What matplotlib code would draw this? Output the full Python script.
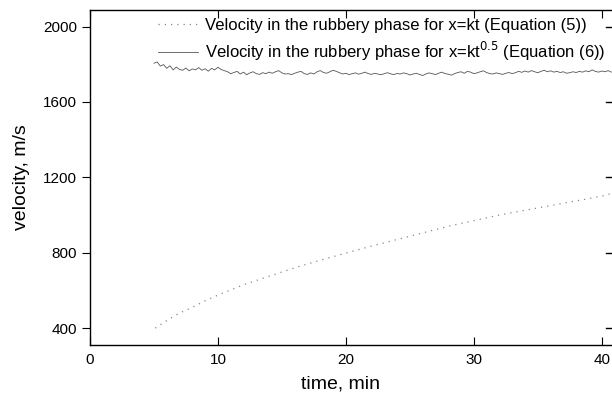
import numpy as np
import matplotlib.pyplot as plt

plt.rcParams['font.family'] = ['Liberation Sans', 'DejaVu Sans']

# ------------------------------------------
# Data
# ------------------------------------------

# Equation (5): x = kt
t_eq5 = [5.1, 6, 7, 8, 9, 10, 12, 14, 16, 18, 20, 22, 24, 26, 28,
         30, 32, 34, 36, 38, 40, 40.8]
v_eq5 = [400, 440, 480, 510, 545, 575, 630, 675, 720, 760, 798, 835,
         870, 905, 940, 970, 1000, 1025, 1050, 1075, 1100, 1115]

# Equation (6): x = kt^0.5  (sampled every 0.25 min from 5 to 40.75)
t_eq6 = np.arange(5.0, 40.76, 0.25)
v_eq6 = [1805, 1812, 1790, 1798, 1778, 1792, 1770, 1785, 1772,
         1768, 1780, 1765, 1775, 1770, 1782, 1768, 1776, 1763, 1778, 1770, 1784,
         1772, 1766, 1760, 1750, 1756, 1762, 1748, 1758, 1744, 1754, 1760, 1750,
         1746, 1755, 1750, 1758, 1752, 1760, 1766, 1754, 1748, 1750, 1745, 1752,
         1758, 1762, 1750, 1746, 1754, 1748, 1760, 1766, 1756, 1752, 1760, 1768,
         1762, 1755, 1748, 1752, 1745, 1750, 1754, 1747, 1752, 1758, 1750, 1746,
         1752, 1748, 1744, 1750, 1755, 1749, 1745, 1751, 1748, 1754, 1750, 1743,
         1748, 1752, 1746, 1740, 1748, 1754, 1750, 1745, 1752, 1758, 1750, 1747,
         1742, 1750, 1756, 1760, 1752, 1762, 1758, 1750, 1754, 1760, 1765, 1756,
         1750, 1748, 1754, 1750, 1746, 1752, 1756, 1750, 1755, 1762, 1757, 1764,
         1758, 1766, 1760, 1755, 1762, 1768, 1760, 1765, 1758, 1762, 1756, 1760,
         1752, 1755, 1760, 1756, 1762, 1758, 1765, 1760, 1770, 1762, 1758, 1764,
         1760, 1766, 1758]

x_ticks = [0, 10, 20, 30, 40]
y_ticks = [400, 800, 1200, 1600, 2000]

label_eq5 = "Velocity in the rubbery phase for x=kt (Equation (5))"
label_eq6 = "Velocity in the rubbery phase for x=kt$^{0.5}$ (Equation (6))"

# ------------------------------------------
# Plot
# ------------------------------------------

fig = plt.figure(figsize=(6.12, 3.98), dpi=100)
ax = fig.add_axes([0.147, 0.133, 0.853, 0.843])

ax.plot(t_eq5, v_eq5, linestyle=(0, (1, 4)), color="#888888",
        linewidth=0.9, label=label_eq5)
ax.plot(t_eq6, v_eq6, color="#555555", linewidth=0.6, label=label_eq6)

ax.set_xlim(0, 40.8)
ax.set_ylim(310, 2090)
ax.set_xticks(x_ticks)
ax.set_yticks(y_ticks)

ax.tick_params(axis="x", direction="in", top=True, length=6, labelsize=11)
ax.tick_params(axis="y", direction="out", length=6, labelsize=11)
ax.tick_params(axis="x", pad=6)

# inward ticks on the right edge
for y in y_ticks:
    ax.plot([40.8 - 0.5, 40.8], [y, y], color="black", linewidth=1, clip_on=False)

for side in ["left", "bottom", "top"]:
    ax.spines[side].set_linewidth(1)
ax.spines["right"].set_visible(False)

ax.set_xlabel("time, min", fontsize=14)
ax.set_ylabel("velocity, m/s", fontsize=14)
ax.xaxis.set_label_coords(0.48, -0.09)
ax.yaxis.set_label_coords(-0.115, 0.5)

ax.legend(loc="upper left", bbox_to_anchor=(0.115, 1.0), frameon=False,
          fontsize=12, handlelength=2.4, handletextpad=0.4,
          labelspacing=0.4, borderpad=0)

plt.savefig("out.png", dpi=100)
